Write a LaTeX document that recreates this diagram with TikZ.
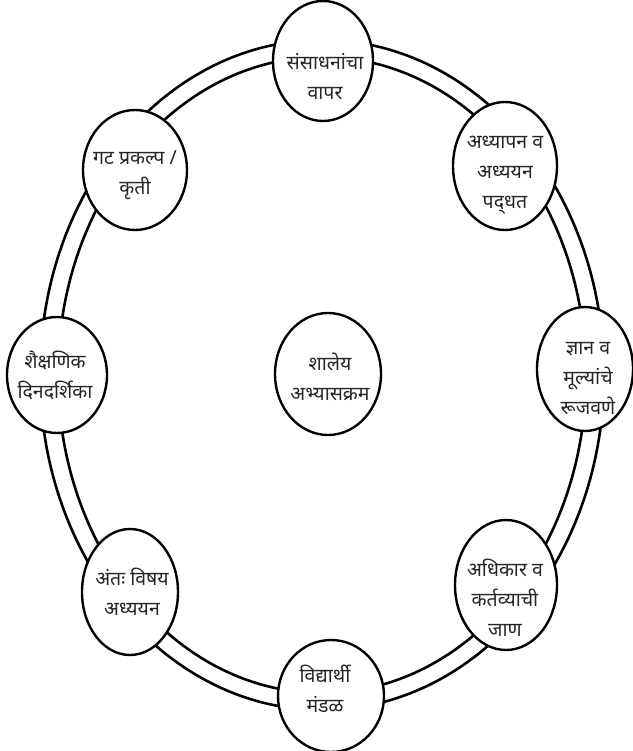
\documentclass[tikz,border=0pt]{standalone}
\usepackage{fontspec}
\newfontfamily\deva[Script=Devanagari]{Noto Sans}
\usetikzlibrary{shapes.geometric}
\tikzset{
  ring/.style={line width=2.6pt, draw=black},
  bub/.style={ellipse, draw=black, line width=2.4pt, fill=white, inner sep=0pt},
  txt/.style={align=center, text=black!85, inner sep=0pt, font=\deva\fontsize{19.5}{30}\selectfont}
}
\begin{document}
\begin{tikzpicture}[x=1pt,y=-1pt]
\useasboundingbox (0,0) rectangle (632,751);
\fill[white] (0,0) rectangle (632,751);
\coordinate (rc) at (322,375);
\draw[ring] (rc) ellipse [x radius=282pt, y radius=335pt];
\draw[ring] (rc) ellipse [x radius=264pt, y radius=318pt];
% bubbles
\node[bub, minimum width=100pt, minimum height=120pt] (b1) at (323,61) {};
\node[bub, minimum width=104pt, minimum height=128pt] (b2) at (505,166) {};
\node[bub, minimum width=96pt, minimum height=124pt] (b3) at (585,369) {};
\node[bub, minimum width=102pt, minimum height=130pt] (b4) at (506,585) {};
\node[bub, minimum width=106pt, minimum height=112pt] (b5) at (331,696) {};
\node[bub, minimum width=96pt, minimum height=126pt] (b6) at (130,592) {};
\node[bub, minimum width=100pt, minimum height=116pt] (b7) at (57,375) {};
\node[bub, minimum width=104pt, minimum height=120pt] (b8) at (135,170) {};
\node[bub, minimum width=106pt, minimum height=122pt] (b9) at (328,374) {};
% texts
\node[txt] (t1) at (325,77) {संसाधनांचा\\वापर};
\node[txt] (t2) at (505,175) {अध्यापन व\\अध्ययन\\पद्‌धत};
\node[txt] (t3) at (588,379) {ज्ञान व\\मूल्यांचे\\रूजवणे};
\node[txt] (t4) at (505,598) {अधिकार व\\कर्तव्याची\\जाण};
\node[txt] (t5) at (325,689) {विद्यार्थी\\मंडळ};
\node[txt] (t6) at (132,592) {अंतः विषय\\अध्ययन};
\node[txt] (t7) at (55,375) {शैक्षणिक\\दिनदर्शिका};
\node[txt] (t8) at (135,175) {गट प्रकल्प /\\कृती};
\node[txt] (t9) at (330,377) {शालेय\\अभ्यासक्रम};
\end{tikzpicture}
\end{document}
